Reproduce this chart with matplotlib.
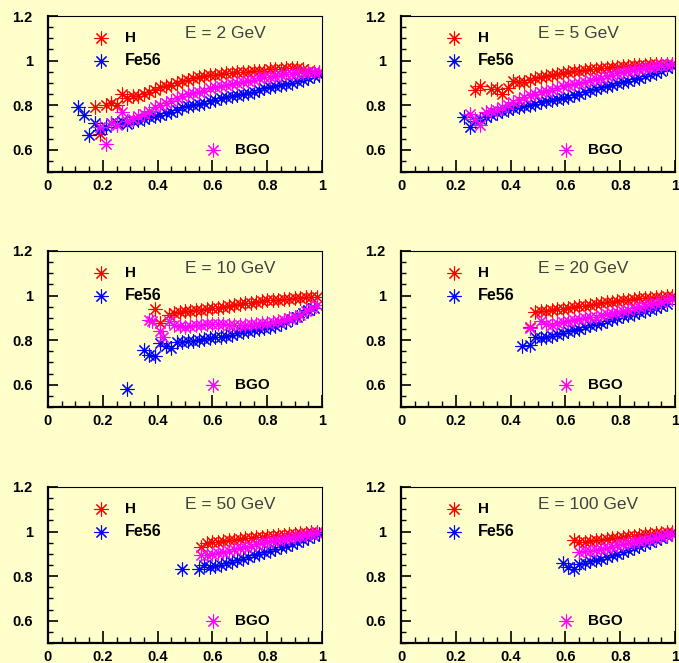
import matplotlib
matplotlib.use("Agg")
import matplotlib.pyplot as plt
from matplotlib.ticker import MultipleLocator, FixedLocator, FixedFormatter

# ---------------- data ----------------
energies = ["E = 2 GeV", "E = 5 GeV", "E = 10 GeV", "E = 20 GeV", "E = 50 GeV", "E = 100 GeV"]
series_names = ["H", "Fe56", "BGO"]
series_colors = ["#ff0000", "#0000ff", "#ff00ff"]

# panel 1 : 2 GeV
h_x_2 = [0.17, 0.19, 0.21, 0.23, 0.25, 0.27, 0.29, 0.31, 0.33, 0.35, 0.37, 0.39, 0.41, 0.43, 0.45, 0.47,
         0.49, 0.51, 0.53, 0.55, 0.57, 0.59, 0.61, 0.63, 0.65, 0.67, 0.69, 0.71, 0.73, 0.75, 0.77, 0.79,
         0.81, 0.83, 0.85, 0.87, 0.89, 0.91, 0.93, 0.95, 0.97, 0.99]
h_y_2 = [0.79, 0.67, 0.80, 0.81, 0.80, 0.85, 0.83, 0.84, 0.84, 0.85, 0.86, 0.87, 0.88, 0.885, 0.89, 0.90,
         0.91, 0.915, 0.92, 0.925, 0.93, 0.935, 0.935, 0.94, 0.945, 0.945, 0.95, 0.95, 0.95, 0.955, 0.955, 0.955,
         0.96, 0.96, 0.96, 0.965, 0.965, 0.965, 0.96, 0.955, 0.95, 0.95]
fe_x_2 = [0.11, 0.13, 0.15, 0.17, 0.19, 0.21, 0.23, 0.25, 0.27, 0.29, 0.31, 0.33, 0.35, 0.37, 0.39, 0.41,
          0.43, 0.45, 0.47, 0.49, 0.51, 0.53, 0.55, 0.57, 0.59, 0.61, 0.63, 0.65, 0.67, 0.69, 0.71, 0.73,
          0.75, 0.77, 0.79, 0.81, 0.83, 0.85, 0.87, 0.89, 0.91, 0.93, 0.95, 0.97, 0.99]
fe_y_2 = [0.79, 0.755, 0.665, 0.72, 0.69, 0.70, 0.72, 0.72, 0.73, 0.715, 0.73, 0.735, 0.74, 0.745, 0.75, 0.755,
          0.765, 0.77, 0.78, 0.79, 0.795, 0.80, 0.805, 0.81, 0.82, 0.825, 0.83, 0.835, 0.84, 0.845, 0.85, 0.855,
          0.86, 0.87, 0.875, 0.88, 0.885, 0.89, 0.895, 0.90, 0.91, 0.915, 0.92, 0.93, 0.935]
bgo_x_2 = [0.19, 0.21, 0.23, 0.25, 0.27, 0.29, 0.31, 0.33, 0.35, 0.37, 0.39, 0.41, 0.43, 0.45, 0.47, 0.49,
           0.51, 0.53, 0.55, 0.57, 0.59, 0.61, 0.63, 0.65, 0.67, 0.69, 0.71, 0.73, 0.75, 0.77, 0.79, 0.81,
           0.83, 0.85, 0.87, 0.89, 0.91, 0.93, 0.95, 0.97, 0.99]
bgo_y_2 = [0.70, 0.625, 0.72, 0.71, 0.77, 0.73, 0.74, 0.75, 0.76, 0.775, 0.79, 0.80, 0.81, 0.82, 0.83, 0.84,
           0.85, 0.855, 0.86, 0.865, 0.875, 0.88, 0.885, 0.89, 0.895, 0.90, 0.905, 0.91, 0.915, 0.92, 0.925, 0.925,
           0.93, 0.935, 0.94, 0.94, 0.945, 0.945, 0.95, 0.95, 0.95]

# panel 2 : 5 GeV
h_x_5 = [0.27, 0.29, 0.33, 0.35, 0.37, 0.39, 0.41, 0.43, 0.45, 0.47, 0.49, 0.51, 0.53, 0.55, 0.57, 0.59,
         0.61, 0.63, 0.65, 0.67, 0.69, 0.71, 0.73, 0.75, 0.77, 0.79, 0.81, 0.83, 0.85, 0.87, 0.89, 0.91,
         0.93, 0.95, 0.97, 0.99]
h_y_5 = [0.866, 0.888, 0.873, 0.873, 0.85, 0.878, 0.91, 0.905, 0.905, 0.915, 0.92, 0.928, 0.93, 0.935, 0.94, 0.945,
         0.948, 0.952, 0.955, 0.958, 0.962, 0.963, 0.966, 0.968, 0.97, 0.972, 0.974, 0.976, 0.978, 0.98, 0.982, 0.984,
         0.985, 0.985, 0.985, 0.985]
fe_x_5 = [0.23, 0.25, 0.27, 0.29, 0.31, 0.33, 0.35, 0.37, 0.39, 0.41, 0.43, 0.45, 0.47, 0.49, 0.51, 0.53,
          0.55, 0.57, 0.59, 0.61, 0.63, 0.65, 0.67, 0.69, 0.71, 0.73, 0.75, 0.77, 0.79, 0.81, 0.83, 0.85,
          0.87, 0.89, 0.91, 0.93, 0.95, 0.97, 0.99]
fe_y_5 = [0.746, 0.70, 0.73, 0.74, 0.748, 0.755, 0.765, 0.772, 0.78, 0.786, 0.792, 0.797, 0.802, 0.807, 0.812, 0.817,
          0.822, 0.827, 0.832, 0.838, 0.845, 0.852, 0.86, 0.867, 0.874, 0.88, 0.886, 0.892, 0.898, 0.903, 0.91, 0.917,
          0.924, 0.93, 0.938, 0.946, 0.955, 0.965, 0.975]
bgo_x_5 = [0.25, 0.27, 0.29, 0.31, 0.33, 0.35, 0.37, 0.39, 0.41, 0.43, 0.45, 0.47, 0.49, 0.51, 0.53, 0.55,
           0.57, 0.59, 0.61, 0.63, 0.65, 0.67, 0.69, 0.71, 0.73, 0.75, 0.77, 0.79, 0.81, 0.83, 0.85, 0.87,
           0.89, 0.91, 0.93, 0.95, 0.97, 0.99]
bgo_y_5 = [0.76, 0.74, 0.71, 0.77, 0.775, 0.776, 0.79, 0.80, 0.815, 0.825, 0.835, 0.845, 0.852, 0.86, 0.865, 0.87,
           0.877, 0.884, 0.89, 0.895, 0.90, 0.906, 0.912, 0.918, 0.924, 0.93, 0.936, 0.942, 0.948, 0.952, 0.957, 0.962,
           0.966, 0.97, 0.974, 0.978, 0.982, 0.985]

# panel 3 : 10 GeV
h_x_10 = [0.39, 0.41, 0.44, 0.46, 0.48, 0.50, 0.52, 0.54, 0.56, 0.58, 0.60, 0.62, 0.64, 0.66, 0.68, 0.70,
          0.72, 0.74, 0.76, 0.78, 0.80, 0.82, 0.84, 0.86, 0.88, 0.90, 0.92, 0.94, 0.96, 0.98]
h_y_10 = [0.939, 0.876, 0.913, 0.92, 0.925, 0.93, 0.933, 0.935, 0.937, 0.94, 0.943, 0.946, 0.95, 0.954, 0.958, 0.963,
          0.965, 0.968, 0.971, 0.975, 0.978, 0.98, 0.982, 0.984, 0.986, 0.988, 0.99, 0.992, 0.994, 0.995]
fe_x_10 = [0.29, 0.35, 0.37, 0.39, 0.41, 0.43, 0.45, 0.47, 0.49, 0.51, 0.53, 0.55, 0.57, 0.59, 0.61, 0.63,
           0.65, 0.67, 0.69, 0.71, 0.73, 0.75, 0.77, 0.79, 0.81, 0.83, 0.85, 0.87, 0.89, 0.91, 0.93, 0.95, 0.97]
fe_y_10 = [0.58, 0.757, 0.734, 0.73, 0.787, 0.772, 0.764, 0.79, 0.792, 0.795, 0.798, 0.802, 0.806, 0.81, 0.813, 0.816,
           0.82, 0.825, 0.83, 0.836, 0.84, 0.844, 0.848, 0.853, 0.858, 0.865, 0.872, 0.88, 0.895, 0.906, 0.92, 0.936, 0.943]
bgo_x_10 = [0.37, 0.38, 0.41, 0.42, 0.44, 0.46, 0.48, 0.50, 0.52, 0.54, 0.56, 0.58, 0.60, 0.62, 0.64, 0.66,
            0.68, 0.70, 0.72, 0.74, 0.76, 0.78, 0.80, 0.82, 0.84, 0.86, 0.88, 0.90, 0.92, 0.94, 0.96, 0.98]
bgo_y_10 = [0.891, 0.884, 0.839, 0.816, 0.884, 0.87, 0.863, 0.861, 0.865, 0.868, 0.87, 0.871, 0.872, 0.872, 0.871, 0.87,
            0.869, 0.869, 0.87, 0.871, 0.873, 0.875, 0.876, 0.881, 0.886, 0.891, 0.898, 0.906, 0.913, 0.93, 0.943, 0.958]

# panel 4 : 20 GeV
h_x_20 = [0.47, 0.49, 0.51, 0.53, 0.55, 0.57, 0.59, 0.61, 0.63, 0.65, 0.67, 0.69, 0.71, 0.73, 0.75, 0.77,
          0.79, 0.81, 0.83, 0.85, 0.87, 0.89, 0.91, 0.93, 0.95, 0.97, 0.99]
h_y_20 = [0.861, 0.928, 0.93, 0.932, 0.935, 0.938, 0.941, 0.944, 0.947, 0.951, 0.955, 0.959, 0.963, 0.966, 0.969, 0.972,
          0.975, 0.978, 0.981, 0.984, 0.987, 0.99, 0.991, 0.993, 0.995, 0.997, 0.998]
fe_x_20 = [0.44, 0.47, 0.49, 0.51, 0.53, 0.55, 0.57, 0.59, 0.61, 0.63, 0.65, 0.67, 0.69, 0.71, 0.73, 0.75,
           0.77, 0.79, 0.81, 0.83, 0.85, 0.87, 0.89, 0.91, 0.93, 0.95, 0.97]
fe_y_20 = [0.775, 0.779, 0.813, 0.809, 0.815, 0.82, 0.826, 0.833, 0.839, 0.845, 0.852, 0.86, 0.866, 0.872, 0.878, 0.885,
           0.893, 0.9, 0.907, 0.913, 0.919, 0.926, 0.933, 0.939, 0.945, 0.952, 0.96]
bgo_x_20 = [0.47, 0.51, 0.53, 0.55, 0.57, 0.59, 0.61, 0.63, 0.65, 0.67, 0.69, 0.71, 0.73, 0.75, 0.77, 0.79,
            0.81, 0.83, 0.85, 0.87, 0.89, 0.91, 0.93, 0.95, 0.97, 0.99]
bgo_y_20 = [0.854, 0.884, 0.872, 0.869, 0.876, 0.881, 0.886, 0.89, 0.894, 0.898, 0.902, 0.906, 0.911, 0.916, 0.921, 0.926,
            0.931, 0.936, 0.942, 0.948, 0.954, 0.96, 0.966, 0.972, 0.978, 0.984]

# panel 5 : 50 GeV
h_x_50 = [0.56, 0.58, 0.60, 0.62, 0.64, 0.66, 0.68, 0.70, 0.72, 0.74, 0.76, 0.78, 0.80, 0.82, 0.84, 0.86,
          0.88, 0.90, 0.92, 0.94, 0.96, 0.98]
h_y_50 = [0.933, 0.948, 0.952, 0.955, 0.958, 0.961, 0.964, 0.967, 0.969, 0.972, 0.974, 0.977, 0.979, 0.981, 0.983, 0.986,
          0.988, 0.99, 0.992, 0.994, 0.996, 0.997]
fe_x_50 = [0.49, 0.55, 0.57, 0.59, 0.61, 0.63, 0.65, 0.67, 0.69, 0.71, 0.73, 0.75, 0.77, 0.79, 0.81, 0.83,
           0.85, 0.87, 0.89, 0.91, 0.93, 0.95, 0.97, 0.99]
fe_y_50 = [0.833, 0.833, 0.848, 0.843, 0.846, 0.852, 0.858, 0.864, 0.871, 0.878, 0.885, 0.893, 0.9, 0.908, 0.915, 0.922,
           0.929, 0.937, 0.945, 0.952, 0.96, 0.97, 0.98, 0.99]
bgo_x_50 = [0.56, 0.58, 0.60, 0.62, 0.64, 0.66, 0.68, 0.70, 0.72, 0.74, 0.76, 0.78, 0.80, 0.82, 0.84, 0.86,
            0.88, 0.90, 0.92, 0.94, 0.96, 0.98]
bgo_y_50 = [0.893, 0.897, 0.90, 0.904, 0.909, 0.914, 0.92, 0.927, 0.932, 0.937, 0.942, 0.947, 0.952, 0.957, 0.962, 0.966,
            0.97, 0.975, 0.979, 0.984, 0.989, 0.993]

# panel 6 : 100 GeV
h_x_100 = [0.63, 0.65, 0.67, 0.69, 0.71, 0.73, 0.75, 0.77, 0.79, 0.81, 0.83, 0.85, 0.87, 0.89, 0.91, 0.93,
           0.95, 0.97, 0.99]
h_y_100 = [0.963, 0.952, 0.955, 0.958, 0.961, 0.964, 0.967, 0.97, 0.973, 0.976, 0.979, 0.982, 0.985, 0.988, 0.99, 0.992,
           0.994, 0.996, 0.997]
fe_x_100 = [0.59, 0.61, 0.63, 0.65, 0.67, 0.69, 0.71, 0.73, 0.75, 0.77, 0.79, 0.81, 0.83, 0.85, 0.87, 0.89,
            0.91, 0.93, 0.95, 0.97, 0.99]
fe_y_100 = [0.858, 0.84, 0.833, 0.855, 0.86, 0.866, 0.872, 0.879, 0.886, 0.893, 0.9, 0.908, 0.916, 0.925, 0.934, 0.944,
            0.953, 0.962, 0.972, 0.981, 0.99]
bgo_x_100 = [0.65, 0.67, 0.69, 0.71, 0.73, 0.75, 0.77, 0.79, 0.81, 0.83, 0.85, 0.87, 0.89, 0.91, 0.93, 0.95,
             0.97, 0.99]
bgo_y_100 = [0.907, 0.911, 0.914, 0.918, 0.923, 0.928, 0.933, 0.938, 0.943, 0.948, 0.953, 0.958, 0.963, 0.968, 0.973, 0.979,
             0.985, 0.99]

panels = [
    [(h_x_2, h_y_2), (fe_x_2, fe_y_2), (bgo_x_2, bgo_y_2)],
    [(h_x_5, h_y_5), (fe_x_5, fe_y_5), (bgo_x_5, bgo_y_5)],
    [(h_x_10, h_y_10), (fe_x_10, fe_y_10), (bgo_x_10, bgo_y_10)],
    [(h_x_20, h_y_20), (fe_x_20, fe_y_20), (bgo_x_20, bgo_y_20)],
    [(h_x_50, h_y_50), (fe_x_50, fe_y_50), (bgo_x_50, bgo_y_50)],
    [(h_x_100, h_y_100), (fe_x_100, fe_y_100), (bgo_x_100, bgo_y_100)],
]

x_ticks = [0, 0.2, 0.4, 0.6, 0.8, 1.0]
x_tick_labels = ["0", "0.2", "0.4", "0.6", "0.8", "1"]
y_ticks = [0.6, 0.8, 1.0, 1.2]
y_tick_labels = ["0.6", "0.8", "1", "1.2"]

# ---------------- drawing ----------------
BG = "#ffffcc"
plt.rcParams['font.family'] = ['Liberation Sans', 'DejaVu Sans']

fig = plt.figure(figsize=(6.79, 6.63), dpi=100, facecolor=BG)

W, H = 679.0, 663.0
col_left = [48, 401]
ax_w = 274
row_bottom = [172, 407, 643]
ax_h = 156

STAR = (8, 2, 0)
MS = 10.0
MEW = 0.8

for i, (label, data) in enumerate(zip(energies, panels)):
    r, c = divmod(i, 2)
    l = col_left[c] / W
    b = (H - row_bottom[r]) / H
    ax = fig.add_axes([l, b, ax_w / W, ax_h / H])
    ax.set_facecolor(BG)
    ax.set_xlim(0, 1)
    ax.set_ylim(0.5, 1.2)

    for (xs, ys), col in zip(data, series_colors):
        ax.plot(xs, ys, linestyle='none', marker=STAR, markersize=MS,
                markeredgewidth=MEW, color=col, clip_on=True)

    # legend-like annotations
    ax.plot([0.195], [1.103], linestyle='none', marker=STAR, markersize=MS,
            markeredgewidth=MEW, color=series_colors[0])
    ax.text(0.28, 1.103, series_names[0], fontsize=11, fontweight='bold', va='center', ha='left')
    ax.plot([0.195], [1.0], linestyle='none', marker=STAR, markersize=MS,
            markeredgewidth=MEW, color=series_colors[1])
    ax.text(0.28, 1.0, series_names[1], fontsize=11.5, fontweight='bold', va='center', ha='left')
    ax.plot([0.604], [0.598], linestyle='none', marker=STAR, markersize=MS,
            markeredgewidth=MEW, color=series_colors[2])
    ax.text(0.683, 0.598, series_names[2], fontsize=11, fontweight='bold', va='center', ha='left')

    ax.text(0.50, 1.123, label, fontsize=12.5, color='#404040', va='center', ha='left')

    ax.xaxis.set_major_locator(FixedLocator(x_ticks))
    ax.xaxis.set_major_formatter(FixedFormatter(x_tick_labels))
    ax.yaxis.set_major_locator(FixedLocator(y_ticks))
    ax.yaxis.set_major_formatter(FixedFormatter(y_tick_labels))
    ax.xaxis.set_minor_locator(MultipleLocator(0.05))
    ax.yaxis.set_minor_locator(MultipleLocator(0.05))
    ax.tick_params(axis='x', which='major', direction='in', length=9, width=1.2,
                   labelsize=10.5, pad=5, top=False)
    ax.tick_params(axis='x', which='minor', direction='in', length=4.5, width=1.0, top=False)
    ax.tick_params(axis='y', which='major', direction='in', length=7, width=1.2,
                   labelsize=10.5, pad=11, right=False)
    ax.tick_params(axis='y', which='minor', direction='in', length=3.5, width=1.0, right=False)
    for lab in ax.get_xticklabels() + ax.get_yticklabels():
        lab.set_fontweight('bold')

    ax.spines['left'].set_linewidth(1.6)
    ax.spines['bottom'].set_linewidth(1.6)
    ax.spines['top'].set_linewidth(0.8)
    ax.spines['right'].set_linewidth(0.8)

fig.savefig("out.png", dpi=100, facecolor=BG)
